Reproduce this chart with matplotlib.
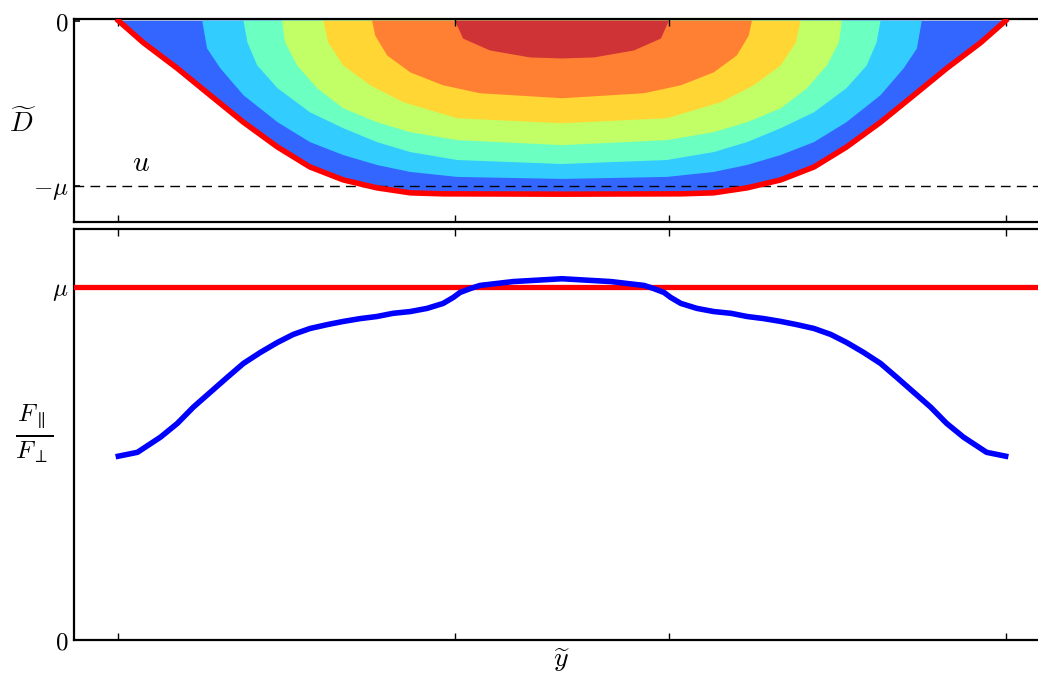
"""Depth profile contour (top) and force ratio along the cross-section (bottom)."""

import numpy as np
import matplotlib.pyplot as plt

plt.rcParams["mathtext.fontset"] = "cm"

MU = 1.0

# x-ticks along the cross-section
x_ticks = [-1.0, -0.241, 0.241, 1.0]

# bed boundary D(y) (red line)
bed_x = [-1.0, -0.944, -0.867, -0.793, -0.718, -0.641, -0.568, -0.493, -0.417, -0.342,
         -0.268, 0.0, 0.268, 0.342, 0.417, 0.493, 0.568, 0.641, 0.718, 0.793, 0.867,
         0.944, 1.0]
bed_d = [0.0, -0.132, -0.288, -0.450, -0.613, -0.763, -0.883, -0.961, -1.009, -1.039,
         -1.045, -1.047, -1.045, -1.039, -1.009, -0.961, -0.883, -0.763, -0.613, -0.450,
         -0.288, -0.132, 0.0]

# contour level boundaries of u (outer to inner)
lev1_x = [-0.811, -0.800, -0.770, -0.718, -0.641, -0.568, -0.493, -0.417, -0.342, -0.236, 0.0,
          0.236, 0.342, 0.417, 0.493, 0.568, 0.641, 0.718, 0.770, 0.800, 0.811]
lev1_d = [0.0, -0.168, -0.288, -0.450, -0.613, -0.733, -0.811, -0.871, -0.913, -0.943, -0.955,
          -0.943, -0.913, -0.871, -0.811, -0.733, -0.613, -0.450, -0.288, -0.168, 0.0]

lev2_x = [-0.718, -0.709, -0.687, -0.641, -0.568, -0.493, -0.417, -0.342, -0.236, 0.0,
          0.236, 0.342, 0.417, 0.493, 0.568, 0.641, 0.687, 0.709, 0.718]
lev2_d = [0.0, -0.132, -0.270, -0.408, -0.553, -0.649, -0.733, -0.793, -0.841, -0.865,
          -0.841, -0.793, -0.733, -0.649, -0.553, -0.408, -0.270, -0.132, 0.0]

lev3_x = [-0.631, -0.624, -0.597, -0.552, -0.493, -0.417, -0.342, -0.236, 0.0,
          0.236, 0.342, 0.417, 0.493, 0.552, 0.597, 0.624, 0.631]
lev3_d = [0.0, -0.132, -0.270, -0.408, -0.529, -0.613, -0.673, -0.721, -0.751,
          -0.721, -0.673, -0.613, -0.529, -0.408, -0.270, -0.132, 0.0]

lev4_x = [-0.538, -0.527, -0.493, -0.432, -0.358, -0.236, 0.0,
          0.236, 0.358, 0.432, 0.493, 0.527, 0.538]
lev4_d = [0.0, -0.132, -0.270, -0.390, -0.492, -0.589, -0.619,
          -0.589, -0.492, -0.390, -0.270, -0.132, 0.0]

lev5_x = [-0.428, -0.421, -0.394, -0.342, -0.268, -0.185, 0.0,
          0.185, 0.268, 0.342, 0.394, 0.421, 0.428]
lev5_d = [0.0, -0.090, -0.210, -0.312, -0.390, -0.438, -0.468,
          -0.438, -0.390, -0.312, -0.210, -0.090, 0.0]

lev6_x = [-0.241, -0.223, -0.162, -0.072, 0.0, 0.072, 0.162, 0.223, 0.241]
lev6_d = [0.0, -0.108, -0.180, -0.222, -0.228, -0.222, -0.180, -0.108, 0.0]

band_colors = ["#3366ff", "#33ccff", "#6cffc2", "#c2ff66", "#ffd633", "#ff7f33", "#d03336"]

# force ratio F_par / F_perp along the section (blue)
ratio_x = [-1.0, -0.957, -0.905, -0.867, -0.831, -0.793, -0.755, -0.718, -0.680, -0.642,
           -0.606, -0.568, -0.529, -0.493, -0.455, -0.417, -0.381, -0.342, -0.304, -0.268,
           -0.245, -0.230, -0.207, -0.185, -0.110, 0.0,
           0.110, 0.185, 0.207, 0.230, 0.245, 0.268, 0.304, 0.342, 0.381, 0.417, 0.455,
           0.493, 0.529, 0.568, 0.606, 0.642, 0.680, 0.718, 0.755, 0.793, 0.831, 0.867,
           0.905, 0.957, 1.0]
ratio_y = [0.521, 0.532, 0.575, 0.614, 0.660, 0.702, 0.744, 0.784, 0.815, 0.843,
           0.866, 0.883, 0.894, 0.903, 0.911, 0.917, 0.926, 0.931, 0.940, 0.954,
           0.971, 0.985, 0.996, 1.005, 1.016, 1.024,
           1.016, 1.005, 0.996, 0.985, 0.971, 0.954, 0.940, 0.931, 0.926, 0.917, 0.911,
           0.903, 0.894, 0.883, 0.866, 0.843, 0.815, 0.784, 0.744, 0.702, 0.660, 0.614,
           0.575, 0.532, 0.521]

W, H = 1038, 673
fig = plt.figure(figsize=(W / 100, H / 100), dpi=100)

left = 74 / W
width = 976 / W
ax_top = fig.add_axes([left, 1 - 222 / H, width, 203 / H])
ax_bot = fig.add_axes([left, 1 - 640 / H, width, 411 / H])

# --- top panel: contours of u under the bed line
levels = [(bed_x, bed_d), (lev1_x, lev1_d), (lev2_x, lev2_d), (lev3_x, lev3_d),
          (lev4_x, lev4_d), (lev5_x, lev5_d), (lev6_x, lev6_d)]
for (lx, ld), c in zip(levels, band_colors):
    ax_top.fill(lx, ld, color=c, lw=0)
ax_top.plot(bed_x, bed_d, color="red", lw=4, solid_joinstyle="round", zorder=5)
ax_top.axhline(-MU, color="black", lw=1, dashes=(7, 4.5), zorder=4)
ax_top.text(-0.95, -0.86, r"$u$", fontsize=21, ha="center", va="center")

ax_top.set_xlim(-1.1, 1.1)
ax_top.set_ylim(-1.215, 0.01)
ax_top.set_yticks([-MU, 0])
ax_top.set_yticklabels([r"$-\mu$", r"$0$"])

# --- bottom panel: force ratio
ax_bot.axhline(MU, color="red", lw=3.8, zorder=3)
ax_bot.plot(ratio_x, ratio_y, color="blue", lw=4, solid_joinstyle="round", zorder=4)
ax_bot.set_xlim(-1.1, 1.1)
ax_bot.set_ylim(0, 1.165)
ax_bot.set_yticks([0, MU])
ax_bot.set_yticklabels([r"$0$", r"$\mu$"])

for ax in (ax_top, ax_bot):
    ax.set_xticks(x_ticks)
    ax.set_xticklabels([])
    ax.tick_params(axis="x", which="both", direction="in", top=True, bottom=True,
                   length=5, width=1)
    ax.tick_params(axis="y", direction="in", left=True, right=False, length=4,
                   width=1.2, labelsize=18, pad=4)
    for s in ("left", "top", "bottom"):
        ax.spines[s].set_linewidth(1.6)
    ax.spines["right"].set_visible(False)

fig.text(23 / W, 1 - 123 / H, r"$\widetilde{D}$", fontsize=20, ha="center", va="center")
fig.text(34 / W, 1 - 434 / H, r"$\frac{F_\parallel}{F_\perp}$", fontsize=26,
         ha="center", va="center")
fig.text(562 / W, 1 - 660 / H, r"$\widetilde{y}$", fontsize=20, ha="center", va="center")

fig.savefig("out.png", dpi=100)
